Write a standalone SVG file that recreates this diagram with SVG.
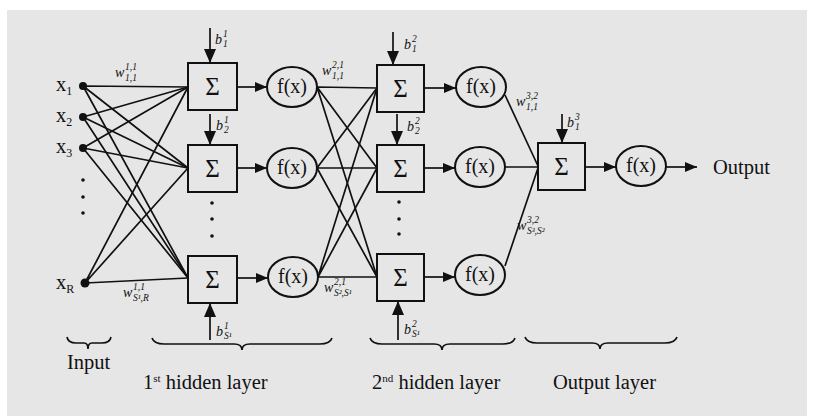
<svg xmlns="http://www.w3.org/2000/svg" width="813" height="417" viewBox="0 0 813 417">
<style>
.ln{stroke:#111;stroke-width:1.7;fill:none}
.bx{fill:#e6e6e6;stroke:#111;stroke-width:2}
.t{font-family:"Liberation Serif","Times New Roman",serif;fill:#111}
.lab{font-size:20.5px}
.sg{font-size:25px;text-anchor:middle}
.fx{font-size:20px;text-anchor:middle}
.w{font-size:14px;font-style:italic}
.s{font-size:9.5px;font-style:italic}
.dot{fill:#111}
</style>
<defs>
<marker id="ah" markerUnits="userSpaceOnUse" markerWidth="12" markerHeight="10" refX="12" refY="5" orient="auto">
<path d="M0,0 L12,5 L0,10 z" fill="#111"/>
</marker>
<marker id="ab" markerUnits="userSpaceOnUse" markerWidth="14" markerHeight="12" refX="14" refY="6" orient="auto">
<path d="M0,0 L14,6 L0,12 z" fill="#111"/>
</marker>
</defs>
<rect x="0" y="0" width="813" height="417" fill="#ffffff"/>
<rect x="7" y="10" width="800" height="406" fill="#e6e6e6"/>

<g id="connectors">
<path class="ln" d="M83,86 L188,87 M83,86 L188,168 M83,86 L188,278"/>
<path class="ln" d="M83,117 L188,87 M83,117 L188,168 M83,117 L188,278"/>
<path class="ln" d="M83,148 L188,87 M83,148 L188,168 M83,148 L188,278"/>
<path class="ln" d="M85,283 L188,87 M85,283 L188,168 M85,283 L188,278"/>
<path class="ln" d="M237,87 L267,87" marker-end="url(#ah)"/>
<path class="ln" d="M237,168 L267,168" marker-end="url(#ah)"/>
<path class="ln" d="M237,278 L268,278" marker-end="url(#ah)"/>
<path class="ln" d="M317,87 L377,88 M317,87 L377,168 M317,87 L377,277"/>
<path class="ln" d="M317,168 L377,88 M317,168 L377,168 M317,168 L377,277"/>
<path class="ln" d="M318,277 L377,88 M318,277 L377,168 M318,277 L377,277"/>
<path class="ln" d="M424,88 L456,88" marker-end="url(#ah)"/>
<path class="ln" d="M424,168 L455,168" marker-end="url(#ah)"/>
<path class="ln" d="M424,277 L455,277" marker-end="url(#ah)"/>
<path class="ln" d="M505,95 L538,166 M505,167 L538,167 M505,266 L538,168"/>
<path class="ln" d="M585,167 L616,167" marker-end="url(#ah)"/>
<path class="ln" d="M666,167 L697,167" marker-end="url(#ah)"/>
<path class="ln" d="M210,28 L210,63" marker-end="url(#ab)"/>
<path class="ln" d="M210,114 L210,145" marker-end="url(#ab)"/>
<path class="ln" d="M210,340 L210,303" marker-end="url(#ab)"/>
<path class="ln" d="M393,32 L393,65" marker-end="url(#ab)"/>
<path class="ln" d="M397,114 L397,145" marker-end="url(#ab)"/>
<path class="ln" d="M398,340 L398,301" marker-end="url(#ab)"/>
<path class="ln" d="M562,114 L562,143" marker-end="url(#ab)"/>
</g>

<g id="inputs">
<circle class="dot" cx="83" cy="86" r="4"/>
<circle class="dot" cx="83" cy="117" r="4"/>
<circle class="dot" cx="83" cy="148" r="4"/>
<circle class="dot" cx="85" cy="283" r="4.5"/>
<circle class="dot" cx="83" cy="180" r="1.8"/>
<circle class="dot" cx="83" cy="197" r="1.8"/>
<circle class="dot" cx="83" cy="213" r="1.8"/>
<text class="t lab" x="56" y="91">x<tspan font-size="12" dy="4">1</tspan></text>
<text class="t lab" x="56" y="122">x<tspan font-size="12" dy="4">2</tspan></text>
<text class="t lab" x="56" y="153">x<tspan font-size="12" dy="4">3</tspan></text>
<text class="t lab" x="56" y="289">x<tspan font-size="12" dy="4">R</tspan></text>
</g>

<g id="layer1">
<rect class="bx" x="188" y="63" width="49" height="47"/>
<text class="t sg" x="212.5" y="95">Σ</text>
<rect class="bx" x="188" y="145" width="49" height="47"/>
<text class="t sg" x="212.5" y="177">Σ</text>
<rect class="bx" x="188" y="256" width="49" height="47"/>
<text class="t sg" x="212.5" y="288">Σ</text>
<circle class="dot" cx="212" cy="203" r="1.8"/>
<circle class="dot" cx="212" cy="219" r="1.8"/>
<circle class="dot" cx="212" cy="236" r="1.8"/>
<ellipse class="bx" cx="292" cy="87" rx="25" ry="20"/>
<text class="t fx" x="292" y="93">f(x)</text>
<ellipse class="bx" cx="292" cy="168" rx="25" ry="20"/>
<text class="t fx" x="292" y="174">f(x)</text>
<ellipse class="bx" cx="293" cy="277" rx="25" ry="20"/>
<text class="t fx" x="293" y="283">f(x)</text>
</g>

<g id="layer2">
<rect class="bx" x="377" y="65" width="47" height="47"/>
<text class="t sg" x="400.5" y="97">Σ</text>
<rect class="bx" x="377" y="145" width="47" height="47"/>
<text class="t sg" x="400.5" y="177">Σ</text>
<rect class="bx" x="377" y="254" width="47" height="47"/>
<text class="t sg" x="400.5" y="286">Σ</text>
<circle class="dot" cx="399" cy="202" r="1.8"/>
<circle class="dot" cx="399" cy="219" r="1.8"/>
<circle class="dot" cx="399" cy="234" r="1.8"/>
<ellipse class="bx" cx="481" cy="87" rx="25" ry="20"/>
<text class="t fx" x="481" y="93">f(x)</text>
<ellipse class="bx" cx="480" cy="167" rx="25" ry="20"/>
<text class="t fx" x="480" y="173">f(x)</text>
<ellipse class="bx" cx="480" cy="275" rx="25" ry="20"/>
<text class="t fx" x="480" y="281">f(x)</text>
</g>

<g id="output">
<rect class="bx" x="538" y="143" width="47" height="47"/>
<text class="t sg" x="561.5" y="175">Σ</text>
<ellipse class="bx" cx="641" cy="166" rx="25" ry="20"/>
<text class="t fx" x="641" y="172">f(x)</text>
<text class="t lab" x="713" y="174">Output</text>
</g>

<g id="weight-labels">
<text class="t w" x="115" y="77">w</text><text class="t s" x="125" y="70">1,1</text><text class="t s" x="125" y="81">1,1</text>
<text class="t w" x="123" y="297">w</text><text class="t s" x="133" y="290">1,1</text><text class="t s" x="133" y="301">S¹,R</text>
<text class="t w" x="322" y="75">w</text><text class="t s" x="332" y="68">2,1</text><text class="t s" x="332" y="79">1,1</text>
<text class="t w" x="324" y="292">w</text><text class="t s" x="334" y="285">2,1</text><text class="t s" x="334" y="296">S²,S¹</text>
<text class="t w" x="516" y="106">w</text><text class="t s" x="526" y="99">3,2</text><text class="t s" x="526" y="110">1,1</text>
<text class="t w" x="517" y="230">w</text><text class="t s" x="527" y="223">3,2</text><text class="t s" x="527" y="234">S³,S²</text>
</g>

<g id="bias-labels">
<text class="t w" x="215" y="44">b</text><text class="t s" x="223" y="37">1</text><text class="t s" x="223" y="47">1</text>
<text class="t w" x="216" y="130">b</text><text class="t s" x="224" y="123">1</text><text class="t s" x="224" y="133">2</text>
<text class="t w" x="216" y="336">b</text><text class="t s" x="224" y="329">1</text><text class="t s" x="224" y="339">S¹</text>
<text class="t w" x="404" y="49">b</text><text class="t s" x="412" y="42">2</text><text class="t s" x="412" y="52">1</text>
<text class="t w" x="407" y="131">b</text><text class="t s" x="415" y="124">2</text><text class="t s" x="415" y="134">2</text>
<text class="t w" x="404" y="334">b</text><text class="t s" x="412" y="327">2</text><text class="t s" x="412" y="337">S¹</text>
<text class="t w" x="567" y="127">b</text><text class="t s" x="575" y="120">3</text><text class="t s" x="575" y="130">1</text>
</g>

<g id="braces">
<path class="ln" d="M67,337 Q68,343 76,343 L84,343 Q88,343 88,349 Q88,343 92,343 L102,343 Q110,343 111,337"/>
<path class="ln" d="M152,338 Q154,344 164,344 L234,344 Q242,344 242,350 Q242,344 250,344 L320,344 Q330,344 332,338"/>
<path class="ln" d="M370,338 Q372,344 382,344 L434,344 Q442,344 442,350 Q442,344 450,344 L503,344 Q513,344 515,338"/>
<path class="ln" d="M525,337 Q527,343 537,343 L592,343 Q600,343 600,349 Q600,343 608,343 L665,343 Q675,343 677,337"/>
</g>

<g id="layer-labels">
<text class="t lab" x="67" y="369">Input</text>
<text class="t lab" x="143" y="389">1<tspan font-size="11" dy="-7">st</tspan><tspan dy="7"> hidden layer</tspan></text>
<text class="t lab" x="372" y="389">2<tspan font-size="11" dy="-7">nd</tspan><tspan dy="7"> hidden layer</tspan></text>
<text class="t lab" x="553" y="389">Output layer</text>
</g>
</svg>
